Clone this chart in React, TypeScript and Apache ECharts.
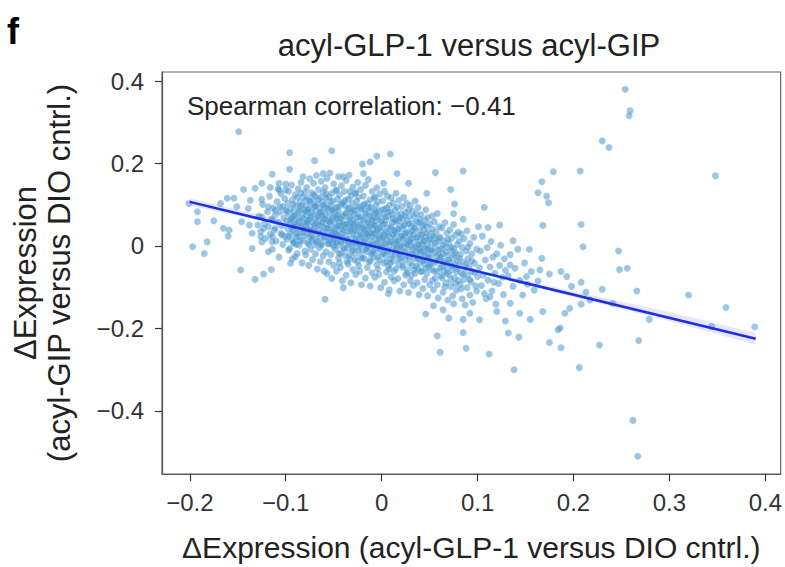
import React, { useEffect, useRef } from "react";
import * as echarts from "echarts";

// ---- axes ----
const xTicks = [-0.2, -0.1, 0, 0.1, 0.2, 0.3, 0.4];
const xTickLabels = ["−0.2", "−0.1", "0", "0.1", "0.2", "0.3", "0.4"];
const yTicks = [-0.4, -0.2, 0, 0.2, 0.4];
const yTickLabels = ["−0.4", "−0.2", "0", "0.2", "0.4"];

const titleText = "acyl-GLP-1 versus acyl-GIP";
const annotationText = "Spearman correlation: −0.41";
const xName = "ΔExpression (acyl-GLP-1 versus DIO cntrl.)";
const yName = "ΔExpression\n(acyl-GIP versus DIO cntrl.)";

// ---- regression fit and its confidence band ----
const fitLine = [[-0.2, 0.107], [0.39, -0.225]];
const bandX = [-0.2, -0.1, 0, 0.1, 0.2, 0.3, 0.39];
const bandLo = [0.098, 0.048, -0.009, -0.066, -0.124, -0.182, -0.239];
const bandHi = [0.116, 0.060, -0.003, -0.058, -0.110, -0.160, -0.211];

// ---- points ----
const outliersRight = [
  [0.254, 0.380], [0.259, 0.328], [0.258, 0.316], [0.230, 0.255], [0.237, 0.239], [0.207, 0.182],
  [0.348, 0.170], [0.208, 0.052], [0.210, -0.002], [0.247, -0.012], [0.248, -0.057], [0.256, -0.054],
  [0.230, -0.105], [0.266, -0.109], [0.320, -0.119], [0.359, -0.149], [0.389, -0.196], [0.279, -0.178],
  [0.344, -0.195], [0.227, -0.240], [0.268, -0.229], [0.206, -0.295], [0.262, -0.423], [0.267, -0.510],
  [0.208, -0.088], [0.208, -0.141], [0.213, -0.112], [0.193, -0.074], [0.198, -0.098], [0.196, -0.151],
  [0.191, -0.163], [0.187, -0.062], [0.186, -0.199], [0.187, -0.247], [0.217, -0.131], [0.241, -0.139],
];
const sparseMidRight = [
  [0.085, 0.182], [0.056, 0.178], [0.179, 0.180], [0.167, 0.156], [0.163, 0.129], [0.172, 0.121],
  [0.174, 0.105], [0.072, 0.137], [0.076, 0.102], [0.107, 0.094], [0.075, 0.078], [0.085, 0.065],
  [0.101, 0.047], [0.111, 0.045], [0.123, 0.051], [0.168, 0.050], [0.154, -0.008], [0.137, 0.013],
  [0.167, -0.030], [0.165, -0.058], [0.175, -0.068], [0.134, -0.046], [0.151, -0.074], [0.144, -0.163],
  [0.134, -0.139], [0.113, -0.123], [0.184, -0.203],
];
const sparseLower = [
  [-0.059, -0.129], [0.007, -0.116], [0.046, -0.165], [0.058, -0.218], [0.061, -0.258], [0.085, -0.210],
  [0.088, -0.248], [0.112, -0.262], [0.138, -0.300], [0.132, -0.211], [0.143, -0.221], [0.175, -0.234],
  [0.070, -0.175], [0.085, -0.178], [0.102, -0.179], [0.129, -0.182], [0.155, -0.178], [0.064, -0.155],
  [0.092, -0.163], [0.120, -0.159], [0.168, -0.159], [0.054, -0.145], [0.075, -0.140], [-0.040, -0.101],
];
const sparseLeft = [
  [-0.149, 0.277], [-0.096, 0.226], [-0.096, 0.186], [-0.114, 0.174], [-0.125, 0.152], [-0.144, 0.137],
  [-0.132, 0.140], [-0.116, 0.142], [-0.107, 0.152], [-0.100, 0.150], [-0.107, 0.136], [-0.100, 0.136],
  [-0.161, 0.116], [-0.154, 0.116], [-0.137, 0.111], [-0.125, 0.113], [-0.168, 0.103], [-0.201, 0.103],
  [-0.151, 0.095], [-0.139, 0.091], [-0.192, 0.083], [-0.175, 0.061], [-0.192, 0.059], [-0.146, 0.059],
  [-0.138, 0.051], [-0.165, 0.043], [-0.159, 0.039], [-0.160, 0.024], [-0.135, 0.031], [-0.182, 0.010],
  [-0.197, -0.002], [-0.185, -0.018], [-0.135, -0.006], [-0.125, 0.010], [-0.114, 0.010], [-0.118, -0.014],
  [-0.147, -0.058], [-0.132, -0.081], [-0.123, -0.068], [-0.115, -0.057], [-0.095, -0.042], [-0.125, 0.071],
  [-0.114, 0.063], [-0.123, 0.043], [-0.111, 0.043], [-0.114, 0.023], [-0.104, 0.027], [-0.126, 0.023],
  [-0.118, 0.095], [-0.111, 0.087], [-0.106, 0.095], [-0.099, 0.083], [-0.095, 0.063], [-0.092, 0.047],
  [-0.092, 0.007], [-0.097, -0.010], [-0.090, -0.026],
];
const sparseTop = [
  [-0.052, 0.231], [0.009, 0.223], [-0.070, 0.207], [-0.020, 0.199], [-0.012, 0.204], [-0.005, 0.218],
  [0.016, 0.176], [0.028, 0.152], [-0.019, 0.176], [-0.082, 0.168], [-0.061, 0.176], [-0.040, 0.168],
  [0.002, 0.152], [0.047, 0.128], [-0.033, 0.132],
];
const coreA = [
  [-0.128, 0.072], [-0.126, 0.035], [-0.124, 0.101], [-0.122, 0.055], [-0.121, 0.018], [-0.119, 0.083],
  [-0.118, 0.047], [-0.117, 0.121], [-0.115, 0.066], [-0.114, -0.008], [-0.113, 0.092], [-0.112, 0.038],
  [-0.111, 0.075], [-0.110, 0.012], [-0.109, 0.108], [-0.108, 0.058], [-0.107, -0.027], [-0.106, 0.082],
  [-0.105, 0.031], [-0.105, 0.127], [-0.104, 0.049], [-0.103, 0.096], [-0.103, 0.004], [-0.102, 0.068],
  [-0.101, 0.115], [-0.101, 0.024], [-0.100, 0.088], [-0.129, 0.051], [-0.116, 0.029], [-0.108, 0.139],
];
const coreB = [
  [-0.099, 0.061], [-0.099, 0.017], [-0.098, 0.104], [-0.098, 0.042], [-0.097, 0.133], [-0.097, 0.078],
  [-0.096, -0.006], [-0.096, 0.053], [-0.095, 0.091], [-0.095, 0.029], [-0.094, 0.148], [-0.094, 0.066],
  [-0.093, -0.031], [-0.093, 0.112], [-0.092, 0.037], [-0.092, 0.084], [-0.091, 0.009], [-0.091, 0.057],
  [-0.090, 0.125], [-0.090, 0.073], [-0.089, 0.021], [-0.089, 0.098], [-0.088, -0.018], [-0.088, 0.046],
  [-0.087, 0.139], [-0.087, 0.081], [-0.086, 0.002], [-0.086, 0.062], [-0.085, 0.107], [-0.085, 0.033],
  [-0.084, 0.154], [-0.084, 0.071], [-0.083, -0.041], [-0.083, 0.049], [-0.082, 0.118], [-0.082, 0.013],
  [-0.081, 0.087], [-0.081, 0.056], [-0.080, -0.012], [-0.080, 0.131], [-0.097, 0.024], [-0.093, 0.069],
  [-0.089, 0.004], [-0.085, 0.095], [-0.082, 0.034],
];
const coreC = [
  [-0.079, 0.052], [-0.079, 0.098], [-0.079, -0.021], [-0.078, 0.031], [-0.078, 0.142], [-0.078, 0.073],
  [-0.077, 0.008], [-0.077, 0.117], [-0.077, 0.061], [-0.076, -0.047], [-0.076, 0.088], [-0.076, 0.039],
  [-0.075, 0.163], [-0.075, 0.021], [-0.075, 0.069], [-0.074, 0.104], [-0.074, -0.008], [-0.074, 0.047],
  [-0.073, 0.129], [-0.073, 0.081], [-0.073, 0.014], [-0.072, 0.058], [-0.072, -0.033], [-0.072, 0.111],
  [-0.071, 0.036], [-0.071, 0.094], [-0.071, 0.152], [-0.070, 0.003], [-0.070, 0.066], [-0.070, 0.043],
  [-0.069, 0.121], [-0.069, -0.019], [-0.069, 0.085], [-0.068, 0.027], [-0.068, 0.171], [-0.068, 0.055],
  [-0.067, 0.102], [-0.067, -0.056], [-0.067, 0.012], [-0.066, 0.076], [-0.066, 0.137], [-0.066, 0.039],
  [-0.065, -0.004], [-0.065, 0.091], [-0.065, 0.062], [-0.064, 0.118], [-0.064, 0.019], [-0.064, -0.038],
  [-0.063, 0.049], [-0.063, 0.157], [-0.063, 0.083], [-0.062, 0.006], [-0.062, 0.108], [-0.062, 0.034],
  [-0.061, 0.067], [-0.061, -0.024], [-0.061, 0.131], [-0.060, 0.044], [-0.060, 0.093], [-0.060, -0.061],
  [-0.078, 0.084], [-0.074, 0.026], [-0.070, 0.097], [-0.066, 0.051], [-0.062, 0.074],
];
const coreD = [
  [-0.059, 0.021], [-0.059, 0.078], [-0.059, 0.142], [-0.058, -0.014], [-0.058, 0.053], [-0.058, 0.101],
  [-0.057, -0.067], [-0.057, 0.034], [-0.057, 0.164], [-0.056, 0.087], [-0.056, 0.007], [-0.056, 0.061],
  [-0.055, 0.119], [-0.055, -0.038], [-0.055, 0.042], [-0.054, 0.073], [-0.054, 0.013], [-0.054, 0.177],
  [-0.053, 0.096], [-0.053, -0.021], [-0.053, 0.049], [-0.052, 0.128], [-0.052, 0.026], [-0.052, -0.079],
  [-0.051, 0.069], [-0.051, 0.004], [-0.051, 0.109], [-0.050, 0.038], [-0.050, 0.151], [-0.050, -0.047],
  [-0.049, 0.082], [-0.049, 0.017], [-0.049, 0.057], [-0.048, -0.009], [-0.048, 0.134], [-0.048, 0.093],
  [-0.047, 0.031], [-0.047, -0.061], [-0.047, 0.066], [-0.046, 0.113], [-0.046, 0.002], [-0.046, 0.047],
  [-0.045, 0.168], [-0.045, -0.029], [-0.045, 0.084], [-0.044, 0.023], [-0.044, 0.124], [-0.044, 0.059],
  [-0.043, -0.052], [-0.043, 0.011], [-0.043, 0.099], [-0.042, 0.041], [-0.042, 0.146], [-0.042, -0.017],
  [-0.041, 0.072], [-0.041, 0.029], [-0.041, -0.084], [-0.040, 0.106], [-0.040, 0.051], [-0.040, -0.004],
  [-0.058, 0.127], [-0.055, 0.015], [-0.052, 0.088], [-0.050, -0.002], [-0.048, 0.044], [-0.046, 0.075],
  [-0.044, -0.041], [-0.042, 0.009], [-0.053, 0.061], [-0.047, 0.136],
];
const coreE = [
  [-0.039, 0.014], [-0.039, 0.071], [-0.039, 0.132], [-0.038, -0.023], [-0.038, 0.046], [-0.038, 0.097],
  [-0.037, -0.071], [-0.037, 0.027], [-0.037, 0.159], [-0.036, 0.081], [-0.036, -0.006], [-0.036, 0.053],
  [-0.035, 0.114], [-0.035, -0.044], [-0.035, 0.036], [-0.034, 0.064], [-0.034, 0.004], [-0.034, 0.172],
  [-0.033, 0.091], [-0.033, -0.031], [-0.033, 0.042], [-0.032, 0.121], [-0.032, 0.018], [-0.032, -0.089],
  [-0.031, 0.061], [-0.031, -0.012], [-0.031, 0.104], [-0.030, 0.031], [-0.030, 0.143], [-0.030, -0.057],
  [-0.029, 0.076], [-0.029, 0.009], [-0.029, 0.049], [-0.028, -0.019], [-0.028, 0.127], [-0.028, 0.086],
  [-0.027, 0.024], [-0.027, -0.069], [-0.027, 0.058], [-0.026, 0.109], [-0.026, -0.003], [-0.026, 0.039],
  [-0.025, 0.154], [-0.025, -0.037], [-0.025, 0.078], [-0.024, 0.015], [-0.024, 0.118], [-0.024, 0.051],
  [-0.023, -0.061], [-0.023, 0.002], [-0.023, 0.094], [-0.022, 0.033], [-0.022, 0.137], [-0.022, -0.026],
  [-0.021, 0.066], [-0.021, 0.021], [-0.021, -0.094], [-0.020, 0.099], [-0.020, 0.044], [-0.020, -0.011],
  [-0.038, 0.111], [-0.035, 0.008], [-0.032, 0.082], [-0.030, -0.009], [-0.028, 0.037], [-0.026, 0.069],
  [-0.024, -0.048], [-0.022, 0.004], [-0.033, 0.056], [-0.027, 0.129],
];
const coreF = [
  [-0.019, 0.006], [-0.019, 0.063], [-0.019, 0.121], [-0.018, -0.031], [-0.018, 0.038], [-0.018, 0.089],
  [-0.017, -0.078], [-0.017, 0.019], [-0.017, 0.147], [-0.016, 0.073], [-0.016, -0.014], [-0.016, 0.045],
  [-0.015, 0.104], [-0.015, -0.052], [-0.015, 0.028], [-0.014, 0.056], [-0.014, -0.004], [-0.014, 0.161],
  [-0.013, 0.083], [-0.013, -0.039], [-0.013, 0.034], [-0.012, 0.112], [-0.012, 0.011], [-0.012, -0.097],
  [-0.011, 0.052], [-0.011, -0.021], [-0.011, 0.094], [-0.010, 0.023], [-0.010, 0.132], [-0.010, -0.065],
  [-0.009, 0.068], [-0.009, 0.001], [-0.009, 0.041], [-0.008, -0.027], [-0.008, 0.116], [-0.008, 0.077],
  [-0.007, 0.016], [-0.007, -0.076], [-0.007, 0.049], [-0.006, 0.099], [-0.006, -0.011], [-0.006, 0.031],
  [-0.005, 0.141], [-0.005, -0.045], [-0.005, 0.069], [-0.004, 0.007], [-0.004, 0.107], [-0.004, 0.043],
  [-0.003, -0.069], [-0.003, -0.006], [-0.003, 0.085], [-0.002, 0.025], [-0.002, 0.126], [-0.002, -0.034],
  [-0.001, 0.058], [-0.001, 0.013], [-0.001, -0.101], [0.000, 0.088], [0.000, 0.036], [0.000, -0.019],
  [-0.018, 0.101], [-0.015, -0.001], [-0.012, 0.072], [-0.010, -0.017], [-0.008, 0.029], [-0.006, 0.061],
  [-0.004, -0.056], [-0.002, -0.004], [-0.013, 0.047], [-0.007, 0.119],
];
const coreG = [
  [0.001, -0.004], [0.001, 0.051], [0.001, 0.109], [0.002, -0.041], [0.002, 0.027], [0.002, 0.077],
  [0.003, -0.088], [0.003, 0.009], [0.003, 0.133], [0.004, 0.062], [0.004, -0.024], [0.004, 0.034],
  [0.005, 0.092], [0.005, -0.063], [0.005, 0.017], [0.006, 0.045], [0.006, -0.014], [0.006, 0.121],
  [0.007, 0.071], [0.007, -0.049], [0.007, 0.023], [0.008, 0.099], [0.008, 0.001], [0.008, -0.106],
  [0.009, 0.041], [0.009, -0.031], [0.009, 0.083], [0.010, 0.012], [0.010, 0.117], [0.010, -0.075],
  [0.011, 0.057], [0.011, -0.009], [0.011, 0.029], [0.012, -0.037], [0.012, 0.104], [0.012, 0.066],
  [0.013, 0.005], [0.013, -0.084], [0.013, 0.038], [0.014, 0.087], [0.014, -0.021], [0.014, 0.019],
  [0.015, 0.128], [0.015, -0.055], [0.015, 0.058], [0.016, -0.003], [0.016, 0.094], [0.016, 0.032],
  [0.017, -0.079], [0.017, -0.016], [0.017, 0.073], [0.018, 0.014], [0.018, 0.111], [0.018, -0.044],
  [0.019, 0.047], [0.019, 0.002], [0.019, -0.109], [0.020, 0.079], [0.020, 0.024], [0.020, -0.029],
  [0.003, 0.089], [0.007, -0.011], [0.011, 0.076], [0.015, 0.004], [0.018, 0.061],
];
const coreH = [
  [0.021, -0.012], [0.021, 0.041], [0.021, 0.096], [0.022, -0.052], [0.022, 0.017], [0.022, 0.066],
  [0.023, -0.094], [0.023, -0.001], [0.023, 0.118], [0.024, 0.052], [0.024, -0.033], [0.024, 0.024],
  [0.025, 0.081], [0.025, -0.071], [0.025, 0.006], [0.026, 0.035], [0.026, -0.024], [0.026, 0.104],
  [0.027, 0.061], [0.027, -0.058], [0.027, 0.013], [0.028, 0.088], [0.028, -0.009], [0.028, -0.113],
  [0.029, 0.031], [0.029, -0.041], [0.029, 0.072], [0.030, 0.002], [0.030, 0.099], [0.030, -0.084],
  [0.031, 0.047], [0.031, -0.019], [0.031, 0.019], [0.032, -0.047], [0.032, 0.085], [0.032, 0.055],
  [0.033, -0.005], [0.033, -0.096], [0.033, 0.028], [0.034, 0.071], [0.034, -0.031], [0.034, 0.009],
  [0.035, 0.109], [0.035, -0.066], [0.035, 0.043], [0.036, -0.014], [0.036, 0.078], [0.036, 0.021],
  [0.037, -0.089], [0.037, -0.027], [0.037, 0.059], [0.038, 0.004], [0.038, 0.093], [0.038, -0.054],
  [0.039, 0.036], [0.039, -0.008], [0.039, -0.118], [0.040, 0.064], [0.040, 0.014], [0.040, -0.039],
];
const coreI = [
  [0.041, -0.021], [0.041, 0.028], [0.041, 0.076], [0.042, -0.061], [0.042, 0.004], [0.042, 0.049],
  [0.043, -0.103], [0.043, -0.012], [0.044, 0.039], [0.044, -0.043], [0.044, 0.011], [0.045, 0.063],
  [0.045, -0.081], [0.045, -0.006], [0.046, 0.022], [0.046, -0.034], [0.046, 0.088], [0.047, 0.046],
  [0.047, -0.067], [0.047, 0.001], [0.048, 0.069], [0.048, -0.019], [0.048, -0.121], [0.049, 0.017],
  [0.049, -0.051], [0.050, 0.054], [0.050, -0.009], [0.050, -0.094], [0.051, 0.031], [0.051, -0.029],
  [0.052, 0.006], [0.052, -0.057], [0.053, 0.073], [0.053, 0.041], [0.054, -0.015], [0.054, -0.106],
  [0.055, 0.019], [0.055, 0.059], [0.055, -0.041], [0.056, -0.004], [0.056, -0.078], [0.057, 0.034],
  [0.057, -0.024], [0.058, 0.079], [0.058, -0.062], [0.059, 0.011], [0.059, -0.126], [0.060, 0.047],
  [0.060, -0.033], [0.060, -0.009],
];
const coreJ = [
  [0.061, -0.031], [0.061, 0.021], [0.062, -0.072], [0.062, -0.006], [0.063, 0.044], [0.063, -0.049],
  [0.064, -0.112], [0.064, -0.018], [0.065, 0.012], [0.065, -0.061], [0.066, 0.057], [0.066, -0.037],
  [0.067, -0.089], [0.067, -0.002], [0.068, 0.031], [0.068, -0.053], [0.069, -0.024], [0.069, -0.131],
  [0.070, 0.006], [0.070, -0.069], [0.071, 0.039], [0.071, -0.041], [0.072, -0.011], [0.072, -0.098],
  [0.073, 0.019], [0.073, -0.058], [0.074, -0.028], [0.074, -0.121], [0.075, 0.052], [0.075, -0.006],
  [0.076, -0.077], [0.076, -0.044], [0.077, 0.027], [0.077, -0.016], [0.078, -0.107], [0.078, -0.062],
  [0.079, 0.004], [0.079, -0.036], [0.080, -0.084], [0.080, 0.033],
];
const coreK = [
  [0.081, -0.047], [0.081, 0.012], [0.082, -0.093], [0.082, -0.021], [0.083, 0.029], [0.083, -0.066],
  [0.084, -0.128], [0.084, -0.004], [0.085, -0.039], [0.086, 0.018], [0.086, -0.081], [0.087, -0.056],
  [0.087, -0.143], [0.088, -0.012], [0.089, -0.101], [0.089, 0.037], [0.090, -0.031], [0.090, -0.071],
  [0.091, -0.049], [0.092, 0.006], [0.092, -0.119], [0.093, -0.087], [0.094, -0.019], [0.094, -0.061],
  [0.095, -0.137], [0.096, 0.021], [0.097, -0.042], [0.098, -0.097], [0.099, -0.008], [0.100, -0.074],
];
const coreL = [
  [0.102, -0.053], [0.103, -0.012], [0.104, -0.096], [0.105, 0.024], [0.106, -0.071], [0.108, -0.034],
  [0.109, -0.128], [0.110, -0.004], [0.111, -0.083], [0.113, -0.051], [0.114, 0.011], [0.115, -0.109],
  [0.116, -0.027], [0.118, -0.066], [0.119, -0.141], [0.120, -0.019], [0.122, -0.091], [0.123, -0.047],
  [0.124, 0.002], [0.126, -0.076], [0.127, -0.118], [0.128, -0.031], [0.129, -0.059], [0.107, -0.115],
  [0.117, -0.088],
];
const coreM = [
  [0.132, -0.072], [0.134, -0.021], [0.137, -0.098], [0.139, -0.054], [0.142, -0.008], [0.144, -0.083],
  [0.147, -0.119], [0.149, -0.041], [0.152, -0.093], [0.156, -0.062], [0.159, -0.107], [0.163, -0.085],
];
// densest middle of the cloud
const coreX1 = [
  [-0.094, 0.044], [-0.092, 0.101], [-0.091, 0.073], [-0.089, 0.031], [-0.088, 0.118], [-0.087, 0.059],
  [-0.086, 0.086], [-0.085, 0.012], [-0.084, 0.047], [-0.083, 0.099], [-0.082, 0.068], [-0.081, 0.024],
  [-0.080, 0.083], [-0.079, 0.112], [-0.078, 0.041], [-0.077, 0.089], [-0.076, 0.004], [-0.076, 0.063],
  [-0.075, 0.109], [-0.074, 0.036], [-0.073, 0.074], [-0.072, 0.018], [-0.071, 0.125], [-0.070, 0.052],
  [-0.069, 0.097], [-0.068, 0.009], [-0.067, 0.071], [-0.066, 0.113], [-0.065, 0.031], [-0.064, 0.081],
  [-0.063, 0.002], [-0.062, 0.057], [-0.061, 0.099], [-0.060, 0.021], [-0.059, 0.066], [-0.058, 0.117],
  [-0.057, 0.043], [-0.056, 0.092], [-0.055, 0.005], [-0.054, 0.058], [-0.053, 0.108], [-0.052, 0.034],
  [-0.051, 0.086], [-0.050, 0.014], [-0.093, 0.014], [-0.090, 0.052], [-0.087, 0.023], [-0.084, 0.128],
  [-0.081, 0.041], [-0.078, 0.057],
];
const coreX2 = [
  [-0.049, 0.032], [-0.048, 0.071], [-0.047, 0.008], [-0.046, 0.094], [-0.045, 0.049], [-0.044, -0.019],
  [-0.043, 0.067], [-0.042, 0.021], [-0.041, 0.103], [-0.040, 0.038], [-0.039, -0.006], [-0.038, 0.079],
  [-0.037, 0.052], [-0.036, 0.016], [-0.035, 0.091], [-0.034, -0.024], [-0.033, 0.069], [-0.032, 0.036],
  [-0.031, 0.004], [-0.030, 0.087], [-0.029, 0.054], [-0.028, -0.034], [-0.027, 0.017], [-0.026, 0.096],
  [-0.025, 0.046], [-0.024, -0.011], [-0.023, 0.071], [-0.022, 0.027], [-0.021, 0.089], [-0.020, -0.029],
  [-0.019, 0.041], [-0.018, 0.011], [-0.017, 0.079], [-0.016, -0.007], [-0.015, 0.058], [-0.014, 0.024],
  [-0.013, 0.093], [-0.012, -0.036], [-0.011, 0.031], [-0.010, 0.063], [-0.009, -0.013], [-0.008, 0.051],
  [-0.007, 0.086], [-0.006, 0.006], [-0.005, 0.038], [-0.004, -0.027], [-0.003, 0.072], [-0.002, 0.044],
  [-0.001, -0.002], [0.000, 0.061], [-0.046, 0.028], [-0.041, 0.056], [-0.036, -0.038], [-0.031, 0.047],
  [-0.026, 0.009], [-0.021, 0.052], [-0.016, 0.031], [-0.011, 0.004], [-0.006, 0.081], [-0.003, 0.019],
];
const coreX3 = [
  [0.001, 0.021], [0.002, -0.018], [0.003, 0.054], [0.004, 0.004], [0.005, -0.039], [0.006, 0.031],
  [0.007, 0.083], [0.008, -0.056], [0.009, 0.009], [0.010, 0.047], [0.011, -0.024], [0.012, 0.027],
  [0.013, -0.061], [0.014, 0.062], [0.015, -0.008], [0.016, 0.012], [0.017, 0.041], [0.018, -0.032],
  [0.019, 0.068], [0.020, -0.002], [0.021, 0.024], [0.022, -0.047], [0.023, 0.049], [0.024, -0.014],
  [0.025, 0.031], [0.026, -0.066], [0.027, 0.003], [0.028, 0.054], [0.029, -0.027], [0.030, 0.016],
  [0.031, -0.071], [0.032, 0.036], [0.033, -0.019], [0.034, 0.044], [0.035, -0.004], [0.036, -0.049],
  [0.037, 0.021], [0.038, -0.031], [0.039, 0.057], [0.040, -0.012], [0.041, -0.062], [0.042, 0.027],
  [0.043, -0.036], [0.044, 0.013], [0.045, -0.021], [0.046, -0.054], [0.047, 0.031], [0.048, -0.006],
  [0.049, -0.044], [0.050, 0.016], [0.004, 0.071], [0.009, -0.041], [0.014, 0.036], [0.019, -0.021],
  [0.024, 0.073], [0.029, 0.009], [0.034, -0.058], [0.039, 0.002], [0.044, 0.051], [0.049, -0.027],
];
const coreX4 = [
  [0.051, -0.044], [0.052, -0.011], [0.053, -0.083], [0.054, 0.024], [0.055, -0.061], [0.056, 0.008],
  [0.057, -0.037], [0.058, -0.094], [0.059, -0.019], [0.060, 0.019], [0.061, -0.053], [0.062, -0.026],
  [0.063, -0.077], [0.064, 0.002], [0.065, -0.041], [0.066, -0.099], [0.067, -0.014], [0.068, -0.066],
  [0.069, 0.016], [0.070, -0.034], [0.072, -0.081], [0.073, -0.004], [0.074, -0.049], [0.076, -0.021],
  [0.077, -0.091], [0.079, -0.056], [0.081, -0.029], [0.083, -0.104], [0.085, -0.069], [0.088, -0.044],
  [0.090, -0.003], [0.092, -0.082], [0.094, -0.036], [0.097, -0.064], [0.099, -0.109],
];

const allPoints = [
  ...coreA, ...coreB, ...coreC, ...coreD, ...coreE, ...coreF, ...coreG,
  ...coreH, ...coreI, ...coreJ, ...coreK, ...coreL, ...coreM,
  ...coreX1, ...coreX2, ...coreX3, ...coreX4,
  ...sparseLeft, ...sparseTop, ...sparseMidRight, ...sparseLower, ...outliersRight,
];

const FONT = '"Liberation Sans", Arial, sans-serif';

const tickFormatter = (ticks: number[], labels: string[]) => (v: number) => {
  const i = ticks.findIndex((t) => Math.abs(t - v) < 1e-9);
  return i >= 0 ? labels[i] : "";
};

export default function App() {
  const ref = useRef<HTMLDivElement>(null);

  useEffect(() => {
    if (!ref.current) return;
    const chart = echarts.init(ref.current, undefined, { renderer: "svg" });
    const axisCommon = {
      type: "value" as const,
      splitLine: { show: false },
      axisLine: { show: true, onZero: false, lineStyle: { color: "#555", width: 1.2 } },
      axisTick: { show: true, inside: false, length: 7, lineStyle: { color: "#333", width: 1.2 } },
    };
    chart.setOption({
      animation: false,
      backgroundColor: "#fff",
      grid: {
        left: 162,
        right: 4,
        top: 72,
        bottom: 93,
        show: true,
        borderColor: "#666",
        borderWidth: 1.2,
        backgroundColor: "transparent",
      },
      xAxis: {
        ...axisCommon,
        min: -0.229,
        max: 0.416,
        axisTick: { ...axisCommon.axisTick, customValues: xTicks },
        axisLabel: {
          customValues: xTicks,
          formatter: tickFormatter(xTicks, xTickLabels),
          fontSize: 24,
          color: "#333",
          fontFamily: FONT,
          margin: 16,
        },
        name: xName,
        nameLocation: "middle",
        nameGap: 58,
        nameTextStyle: { fontSize: 30, color: "#222", fontFamily: FONT },
      },
      yAxis: {
        ...axisCommon,
        min: -0.553,
        max: 0.422,
        axisTick: { ...axisCommon.axisTick, customValues: yTicks },
        axisLabel: {
          customValues: yTicks,
          formatter: tickFormatter(yTicks, yTickLabels),
          fontSize: 24,
          color: "#333",
          fontFamily: FONT,
          margin: 18,
        },
        name: yName,
        nameLocation: "middle",
        nameGap: 86,
        nameTextStyle: { fontSize: 31, lineHeight: 34, color: "#222", fontFamily: FONT },
      },
      graphic: [
        {
          type: "text",
          left: 7,
          top: 13,
          style: { text: "f", font: `bold 36px ${FONT}`, fill: "#000" },
        },
        {
          type: "text",
          x: 469,
          y: 45,
          style: {
            text: titleText,
            fontSize: 31,
            fontFamily: FONT,
            fill: "#222",
            textAlign: "center",
            textVerticalAlign: "middle",
          },
        },
        {
          type: "text",
          x: 187,
          y: 106,
          z: 10,
          style: {
            text: annotationText,
            fontSize: 26,
            fontFamily: FONT,
            fill: "#222",
            textAlign: "left",
            textVerticalAlign: "middle",
          },
        },
      ],
      series: [
        {
          type: "scatter",
          data: allPoints,
          symbolSize: 7,
          itemStyle: {
            color: "rgba(72,150,205,0.68)",
            borderColor: "rgba(255,255,255,0.3)",
            borderWidth: 0.5,
          },
          z: 2,
        },
        {
          type: "custom",
          data: [[0]],
          z: 3,
          renderItem: (params: any, api: any) => {
            if (params.dataIndex !== 0) return null;
            const upper = bandX.map((x, i) => api.coord([x, bandHi[i]]));
            const lower = bandX.map((x, i) => api.coord([x, bandLo[i]])).reverse();
            return {
              type: "polygon",
              shape: { points: [...upper, ...lower] },
              style: { fill: "rgba(120,110,255,0.18)" },
            };
          },
        },
        {
          type: "line",
          data: fitLine,
          showSymbol: false,
          symbol: "none",
          lineStyle: { color: "#1d2ee0", width: 2.5 },
          z: 4,
        },
      ],
    });
    return () => chart.dispose();
  }, []);

  return (
    <div
      ref={ref}
      style={{ position: "fixed", left: 0, top: 0, width: 785, height: 567, background: "#fff" }}
    />
  );
}
